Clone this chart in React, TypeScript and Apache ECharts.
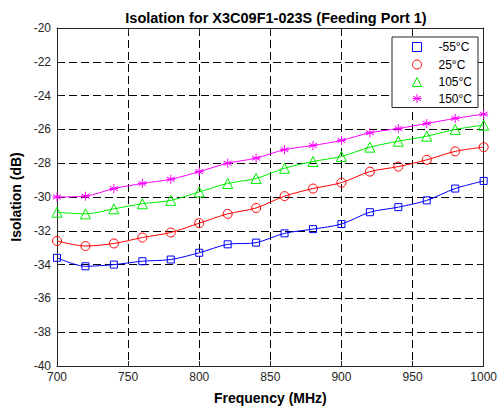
import React, { useEffect, useRef } from "react";
import * as echarts from "echarts";

const freqs = [700, 720, 740, 760, 780, 800, 820, 840, 860, 880, 900, 920, 940, 960, 980, 1000];
const seriesNames = ["-55°C", "25°C", "105°C", "150°C"];
const m55 = [-33.6, -34.1, -34.0, -33.8, -33.7, -33.3, -32.8, -32.7, -32.15, -31.9, -31.6, -30.9, -30.6, -30.2, -29.5, -29.05];
const p25 = [-32.6, -32.9, -32.75, -32.4, -32.1, -31.55, -31.0, -30.65, -29.95, -29.5, -29.15, -28.5, -28.2, -27.8, -27.3, -27.05];
const p105 = [-30.9, -31.0, -30.7, -30.4, -30.2, -29.7, -29.2, -28.9, -28.3, -27.9, -27.6, -27.05, -26.7, -26.4, -26.0, -25.75];
const p150 = [-30.0, -29.95, -29.5, -29.2, -28.95, -28.5, -28.0, -27.7, -27.2, -26.95, -26.65, -26.2, -25.95, -25.65, -25.35, -25.1];
const allValues = [m55, p25, p105, p150];
const colors = ["#0000ff", "#ff0000", "#00ee00", "#ff00ff"];

const starPath = "path://M0,-5L0,5M-4.33,-2.5L4.33,2.5M-4.33,2.5L4.33,-2.5M-5,0L5,0";
const symbols = ["rect", "circle", "triangle", starPath];
const symbolSizes = [7, 9, 10, 9];

export default function App() {
  const ref = useRef<HTMLDivElement>(null);
  useEffect(() => {
    if (!ref.current) return;
    const chart = echarts.init(ref.current, null, { renderer: "svg" });
    const axisCol = "#262626";
    const font = "'Liberation Sans', Arial, sans-serif";
    const baseX = {
      type: "value" as const,
      min: 700,
      max: 1000,
      interval: 50,
    };
    const baseY = {
      type: "value" as const,
      min: -40,
      max: -20,
      interval: 2,
    };
    chart.setOption({
      animation: false,
      backgroundColor: "#ffffff",
      title: {
        text: "Isolation for X3C09F1-023S (Feeding Port 1)",
        left: 271,
        textAlign: "center",
        top: 5,
        textStyle: { fontFamily: font, fontSize: 14.5, fontWeight: "bold", color: "#000" },
      },
      grid: { left: 57, right: 15, top: 28, bottom: 45, containLabel: false },
      legend: {
        orient: "vertical",
        left: 392,
        top: 37,
        padding: [3, 6, 3, 18],
        itemGap: 3.5,
        itemWidth: 9,
        itemHeight: 9,
        backgroundColor: "#ffffff",
        borderColor: "#262626",
        borderWidth: 1,
        borderRadius: 0,
        textStyle: { fontFamily: font, fontSize: 12, color: "#000", padding: [0, 0, 0, 12] },
        data: seriesNames.map((n, i) => ({
          name: n,
          icon: symbols[i],
          itemStyle: { color: i === 3 ? colors[i] : "none", borderColor: colors[i], borderWidth: 1 },
        })),
      },
      xAxis: [
        {
          ...baseX,
          name: "Frequency (MHz)",
          nameLocation: "middle",
          nameGap: 25,
          nameTextStyle: { fontFamily: font, fontSize: 14, fontWeight: "bold", color: "#000" },
          axisLine: { show: true, lineStyle: { color: axisCol, width: 1 } },
          axisTick: { show: true, inside: true, length: 5, lineStyle: { color: axisCol } },
          axisLabel: { fontFamily: font, fontSize: 12, color: axisCol, margin: 5, formatter: (v: number) => String(v) },
          splitLine: { show: true, lineStyle: { type: [8, 4], color: "#000", width: 1 } },
        },
        {
          ...baseX,
          position: "top",
          axisLine: { show: true, onZero: false, lineStyle: { color: axisCol, width: 1 } },
          axisTick: { show: true, inside: true, length: 5, lineStyle: { color: axisCol } },
          axisLabel: { show: false },
          splitLine: { show: false },
        },
      ],
      yAxis: [
        {
          ...baseY,
          name: "Isolation (dB)",
          nameLocation: "middle",
          nameGap: 31,
          nameTextStyle: { fontFamily: font, fontSize: 14, fontWeight: "bold", color: "#000" },
          axisLine: { show: true, onZero: false, lineStyle: { color: axisCol, width: 1 } },
          axisTick: { show: true, inside: true, length: 5, lineStyle: { color: axisCol } },
          axisLabel: { fontFamily: font, fontSize: 12, color: axisCol, margin: 6, formatter: (v: number) => String(v) },
          splitLine: { show: true, lineStyle: { type: [8, 4], color: "#000", width: 1 } },
        },
        {
          ...baseY,
          position: "right",
          axisLine: { show: true, onZero: false, lineStyle: { color: axisCol, width: 1 } },
          axisTick: { show: true, inside: true, length: 5, lineStyle: { color: axisCol } },
          axisLabel: { show: false },
          splitLine: { show: false },
        },
      ],
      series: allValues.map((vals, i) => ({
        name: seriesNames[i],
        type: "line",
        xAxisIndex: 0,
        yAxisIndex: 0,
        smooth: 0.3,
        symbol: symbols[i],
        symbolSize: symbolSizes[i],
        showAllSymbol: true,
        data: freqs.map((f, j) => [f, vals[j]]),
        lineStyle: { color: colors[i], width: 1 },
        itemStyle: { color: i === 3 ? colors[i] : "none", borderColor: colors[i], borderWidth: 1 },
        emphasis: { disabled: true },
      })),
    });
    return () => chart.dispose();
  }, []);
  return <div ref={ref} style={{ width: 500, height: 411, position: "absolute", left: 0, top: 0 }} />;
}
